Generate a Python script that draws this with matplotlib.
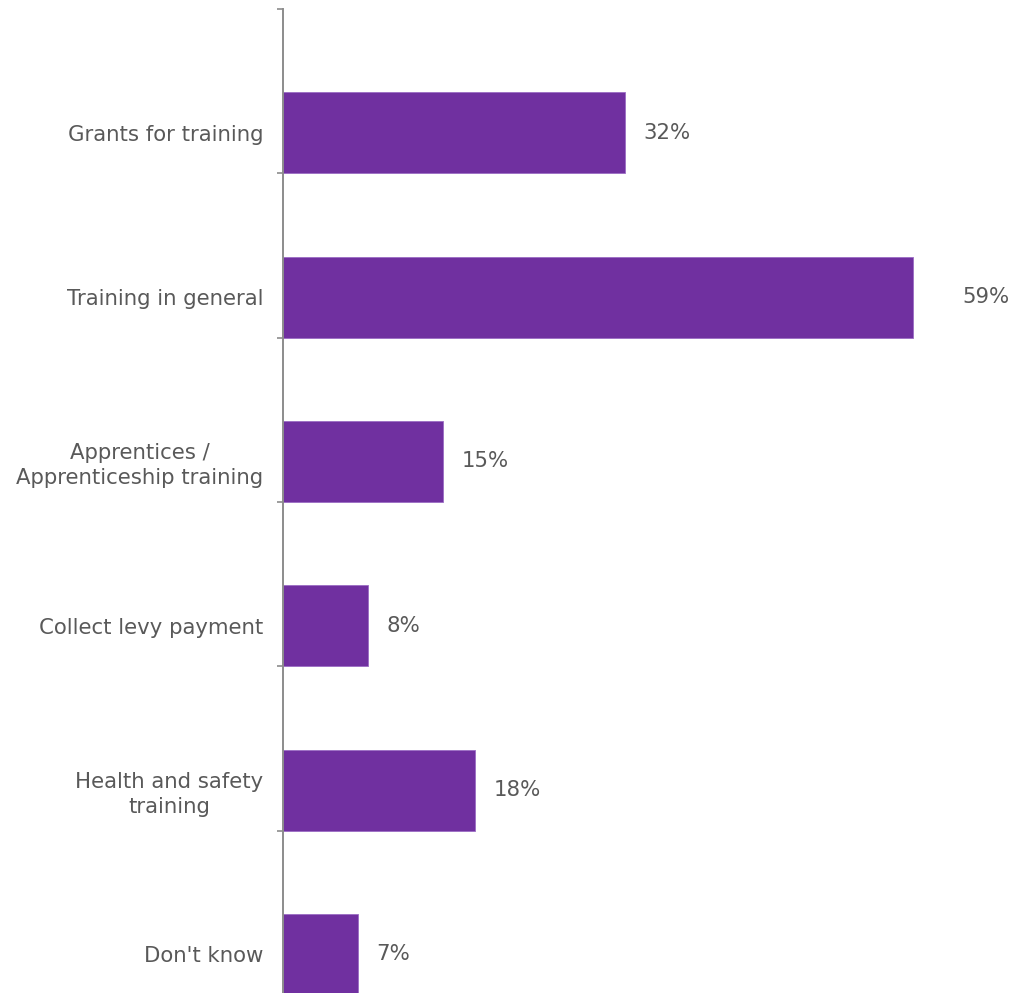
import matplotlib.pyplot as plt

# survey responses, top to bottom
categories = [
    "Grants for training",
    "Training in general",
    "Apprentices /\nApprenticeship training",
    "Collect levy payment",
    "Health and safety\ntraining",
    "Don't know",
]
shares = [32, 59, 15, 8, 18, 7]

BAR = "#7030A0"
TEXT = "#595959"
AXIS = "#8c8c8c"
FS = 15.3

fig = plt.figure(figsize=(10.14, 9.93), dpi=100)
ax = fig.add_axes([283 / 1014, -2 / 993, 731 / 1014, 986 / 993])

# each bar sits in the lower half of its category slot
pos = [i + 0.753 for i in range(len(categories))]
ax.barh(pos, shares, height=0.493, color=BAR, edgecolor="#9b6cc4", linewidth=0.6)

ax.set_xlim(0, 731 / 10.68)
ax.set_ylim(len(categories), 0)

for s in ["top", "right", "bottom"]:
    ax.spines[s].set_visible(False)
ax.spines["left"].set_color(AXIS)
ax.spines["left"].set_linewidth(1.4)
ax.set_xticks([])

ax.set_yticks(range(len(categories) + 1))
ax.set_yticklabels([])
ax.tick_params(axis="y", which="major", direction="out", length=4.5, width=1.2, color=AXIS)
ax.set_yticks(pos, minor=True)
ax.set_yticklabels(categories, minor=True, color=TEXT, fontsize=FS,
                   multialignment="center", linespacing=1.3)
ax.tick_params(axis="y", which="minor", length=0, pad=14)

# value labels; the longest bar gets its label pushed further out
for y, v in zip(pos, shares):
    gap = 4.6 if v == max(shares) else 1.7
    ax.text(v + gap, y, f"{v}%", va="center", ha="left", color=TEXT, fontsize=FS)

fig.savefig("out.png", dpi=100)
